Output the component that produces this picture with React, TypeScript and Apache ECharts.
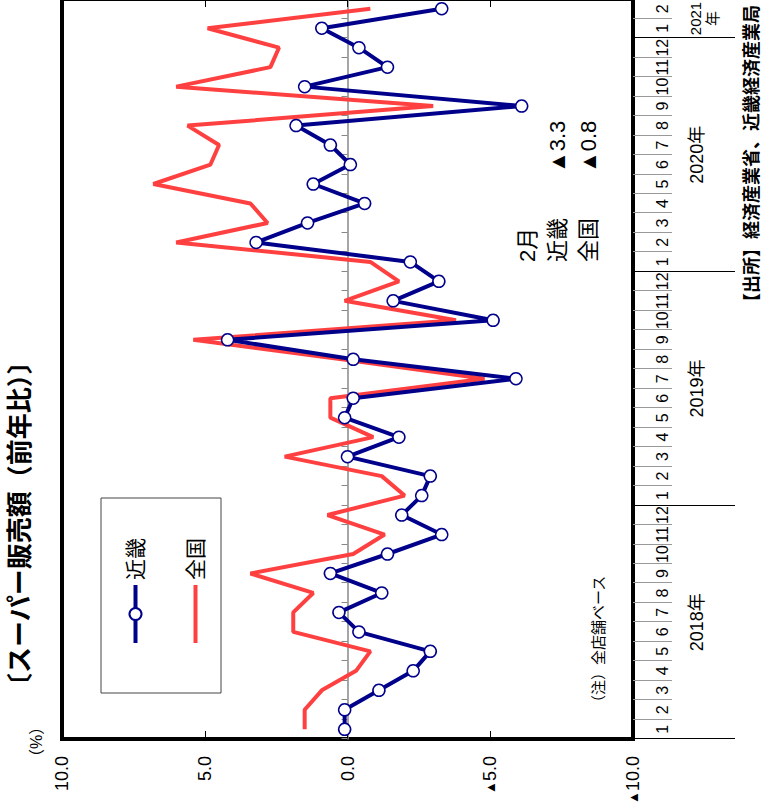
import React, { useEffect, useRef } from 'react';
import * as echarts from 'echarts';

// ---- data ----
const monthLabels = [
  '1', '2', '3', '4', '5', '6', '7', '8', '9', '10', '11', '12',
  '1', '2', '3', '4', '5', '6', '7', '8', '9', '10', '11', '12',
  '1', '2', '3', '4', '5', '6', '7', '8', '9', '10', '11', '12',
  '1', '2',
];
const yearLabels = ['2018年', '2019年', '2020年', '2021\n年'];
const yearMonthCounts = [12, 12, 12, 2];

const kinki = [
  0.1, 0.1, -1.1, -2.3, -2.9, -0.4, 0.3, -1.2, 0.6, -1.4, -3.3, -1.9,
  -2.6, -2.9, 0.0, -1.8, 0.1, -0.2, -5.9, -0.2, 4.2, -5.1, -1.6, -3.2,
  -2.2, 3.2, 1.4, -0.6, 1.2, -0.1, 0.6, 1.8, -6.1, 1.5, -1.4, -0.4,
  0.9, -3.3,
];
const zenkoku = [
  1.5, 1.5, 0.9, -0.3, -0.8, 1.9, 1.9, 1.2, 3.4, -0.2, -1.3, 0.7,
  -2.0, -1.2, 2.2, -0.9, 0.6, 0.6, -4.8, 0.2, 5.4, -3.8, 0.1, -1.8,
  -0.8, 6.0, 2.8, 3.4, 6.8, 4.8, 4.5, 5.6, -3.0, 6.0, 2.7, 2.4,
  4.9, -0.8,
];
const valueTicks = { min: -10, max: 10, interval: 5 };
const seriesNames = ['近畿', '全国'];
const latestLabel = '2月';
const latestValues = ['▲3.3', '▲0.8'];

const FONT = '"Liberation Sans", "Noto Sans CJK JP", sans-serif';
const BLUE = '#00008B';
const RED = '#FF4040';

function buildOption() {
  const total = monthLabels.length;
  const yearCentres: Record<number, { text: string; short: boolean }> = {};
  let acc = 0;
  yearMonthCounts.forEach((c, i) => {
    yearCentres[acc + c / 2] = { text: yearLabels[i], short: c < 6 };
    acc += c;
  });

  const fmtVal = (v: number) => (v < 0 ? '{t|▲}' + Math.abs(v).toFixed(1) : v.toFixed(1));
  const fmtYear = (v: number) => {
    const y = yearCentres[v];
    if (!y) return '';
    if (!y.short) return y.text;
    return y.text.split('\n').map((p) => `{s|${p}}`).join('\n');
  };

  return {
    animation: false,
    backgroundColor: '#fff',
    textStyle: { fontFamily: FONT, color: '#000' },
    grid: {
      left: 64, right: 2, top: 62, bottom: 130,
      outerBoundsMode: 'none',
      containLabel: false,
      show: true, borderWidth: 4, borderColor: '#000', backgroundColor: 'transparent',
    },
    legend: {
      data: [
        { name: seriesNames[0] },
        { name: seriesNames[1], itemStyle: { opacity: 0 } },
      ],
      orient: 'vertical',
      left: 153, top: 120,
      itemWidth: 58, itemHeight: 15, itemGap: 39,
      selectedMode: false,
      lineStyle: { width: 4 },
      textStyle: { fontSize: 21, color: '#000', fontFamily: FONT },
    },
    xAxis: [
      {
        type: 'category', data: monthLabels, position: 'bottom',
        axisLine: { show: true, onZero: true, onZeroAxisIndex: 0, lineStyle: { color: '#888', width: 1.5 } },
        axisTick: { show: true, inside: true, length: 6, interval: 0, lineStyle: { color: '#888', width: 1 } },
        axisLabel: { show: false },
        splitLine: { show: false },
      },
      {
        type: 'category', data: monthLabels, position: 'bottom',
        axisLine: { show: false, onZero: false },
        axisTick: { show: true, length: 39, interval: 0, lineStyle: { color: '#999', width: 1 } },
        axisLabel: { show: true, interval: 0, margin: 21, fontSize: 16, color: '#000', fontFamily: FONT },
        splitLine: { show: false },
      },
      {
        type: 'value', min: 0, max: total, interval: 12, position: 'bottom',
        axisLine: { show: false, onZero: false },
        axisTick: { show: true, length: 102, lineStyle: { color: '#000', width: 1 } },
        axisLabel: { show: false },
        splitLine: { show: false },
      },
      {
        type: 'value', min: 0, max: total, interval: 1, position: 'bottom',
        axisLine: { show: false, onZero: false },
        axisTick: { show: false },
        axisLabel: {
          show: true, margin: 54, fontSize: 18, color: '#000', fontFamily: FONT, lineHeight: 19,
          formatter: fmtYear,
          rich: { s: { fontSize: 15, lineHeight: 17, fontFamily: FONT, color: '#000' } },
        },
        splitLine: { show: false },
      },
    ],
    yAxis: [
      {
        type: 'value', ...valueTicks, position: 'left',
        axisLine: { show: false, onZero: false },
        axisTick: { show: true, inside: true, length: 8, lineStyle: { color: '#000', width: 1 } },
        axisLabel: {
          show: true, margin: 17, fontSize: 18, color: '#000', fontFamily: FONT, formatter: fmtVal,
          rich: { t: { fontSize: 13, fontFamily: FONT, color: '#000' } },
        },
        splitLine: { show: false },
      },
      {
        type: 'value', ...valueTicks, position: 'right',
        axisLine: { show: false, onZero: false },
        axisTick: { show: true, inside: true, length: 8, lineStyle: { color: '#000', width: 1 } },
        axisLabel: { show: false },
        splitLine: { show: false },
      },
    ],
    series: [
      {
        name: seriesNames[1], type: 'line', data: zenkoku,
        xAxisIndex: 0, yAxisIndex: 0,
        symbol: 'none', color: RED,
        lineStyle: { color: RED, width: 4 },
        z: 2,
      },
      {
        name: seriesNames[0], type: 'line', data: kinki,
        xAxisIndex: 0, yAxisIndex: 0,
        symbol: 'circle', symbolSize: 12, color: BLUE,
        itemStyle: { color: '#fff', borderColor: BLUE, borderWidth: 1.5 },
        lineStyle: { color: BLUE, width: 4 },
        z: 3,
      },
    ],
    graphic: [
      {
        type: 'text', x: 104, y: 20,
        style: { text: '〔スーパー販売額（前年比）〕', fill: '#000', font: `bold 26px ${FONT}`, textVerticalAlign: 'middle' },
      },
      {
        type: 'text', x: 38, y: 36,
        style: { text: '（%）', fill: '#000', font: `16px ${FONT}`, textVerticalAlign: 'middle' },
      },
      {
        type: 'rect', shape: { x: 110, y: 101, width: 195, height: 120 },
        style: { fill: 'none', stroke: '#444', lineWidth: 1 },
      },
      {
        type: 'text', x: 93, y: 598,
        style: { text: '（注）全店舗ベース', fill: '#000', font: `15px ${FONT}`, textVerticalAlign: 'middle' },
      },
      {
        type: 'text', x: 541, y: 527,
        style: { text: latestLabel, fill: '#000', font: `22px ${FONT}`, textVerticalAlign: 'middle' },
      },
      {
        type: 'text', x: 541, y: 557,
        style: { text: seriesNames[0], fill: '#000', font: `22px ${FONT}`, textVerticalAlign: 'middle' },
      },
      {
        type: 'text', x: 541, y: 588,
        style: { text: seriesNames[1], fill: '#000', font: `22px ${FONT}`, textVerticalAlign: 'middle' },
      },
      {
        type: 'text', x: 630, y: 557,
        style: { text: latestValues[0], fill: '#000', font: `22px ${FONT}`, textVerticalAlign: 'middle' },
      },
      {
        type: 'text', x: 630, y: 588,
        style: { text: latestValues[1], fill: '#000', font: `22px ${FONT}`, textVerticalAlign: 'middle' },
      },
      {
        type: 'text', x: 798, y: 752,
        style: { text: '【出所】経済産業省、近畿経済産業局', fill: '#000', font: `bold 18px ${FONT}`, textAlign: 'right', textVerticalAlign: 'middle' },
      },
    ],
  };
}

export default function App() {
  const ref = useRef<HTMLDivElement>(null);
  useEffect(() => {
    if (!ref.current) return;
    const chart = echarts.init(ref.current, null, { renderer: 'svg' });
    chart.setOption(buildOption() as any);
    return () => chart.dispose();
  }, []);
  return (
    <div style={{ position: 'fixed', left: 0, top: 0, width: 763, height: 803, overflow: 'hidden', background: '#fff' }}>
      <div
        ref={ref}
        style={{
          position: 'absolute', left: 0, top: 0, width: 806, height: 763,
          transformOrigin: '0 0', transform: 'translate(0px, 803px) rotate(-90deg)',
        }}
      />
    </div>
  );
}
